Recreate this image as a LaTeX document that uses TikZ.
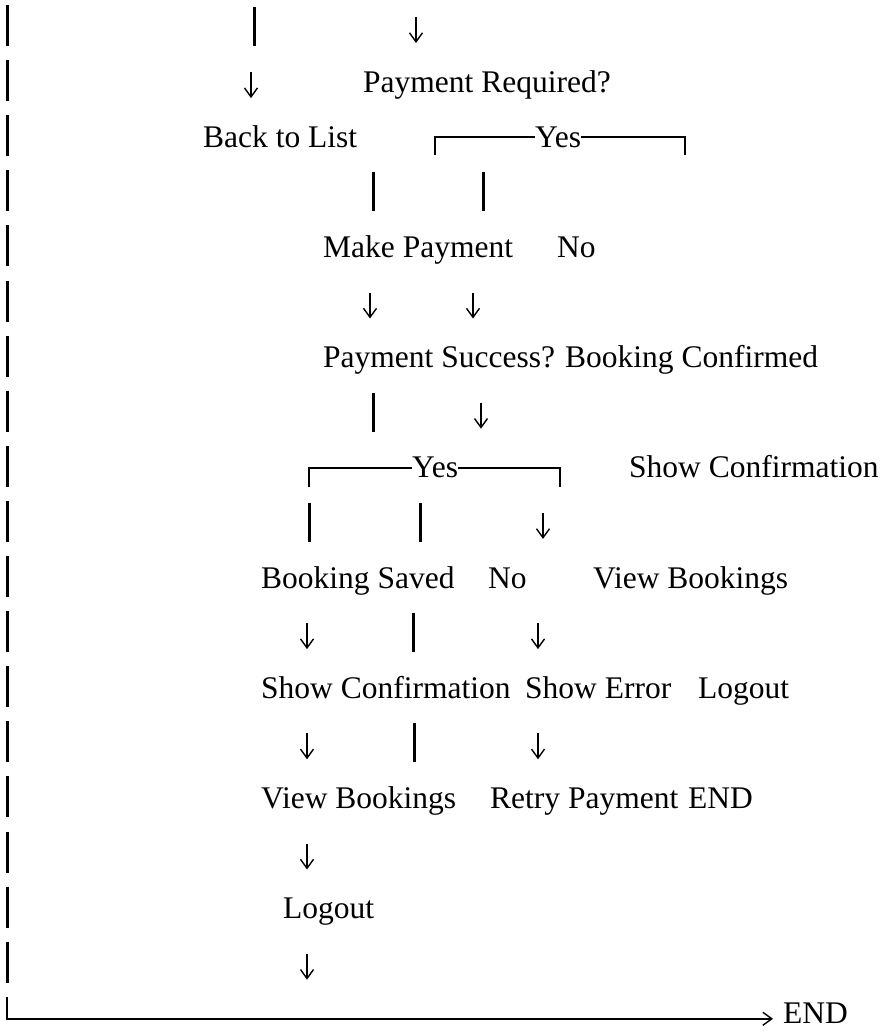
\documentclass[tikz,border=0pt]{standalone}
\usepackage{fontspec}
\setmainfont{Liberation Serif}
\usetikzlibrary{arrows.meta}
\newcommand{\rowy}[1]{27+55.1*#1}

\begin{document}
\begin{tikzpicture}[x=1pt,y=-1pt,
  txt/.style={anchor=base west,inner sep=0pt,font=\fontsize{31.5}{36}\selectfont},
  bar/.style={line width=3pt},
  rule/.style={line width=2.2pt},
  darr/.style={line width=1.4pt,-{Straight Barb[length=9pt,width=13pt,line width=1.4pt]}}]
  \useasboundingbox (0,0) rectangle (885,1033);

  \node[txt] (PayReq)    at (363,{\rowy{1}+10})  {Payment Required?};
  \node[txt] (Back)      at (203,{\rowy{2}+10})  {Back to List};
  \node[txt] (YesA)      at (535,{\rowy{2}+10})  {Yes};
  \node[txt] (MakePay)   at (323,{\rowy{4}+10})  {Make Payment};
  \node[txt] (NoA)       at (557,{\rowy{4}+10})  {No};
  \node[txt] (PaySucc)   at (323,{\rowy{6}+10})  {Payment Success?};
  \node[txt] (Confirmed) at (565,{\rowy{6}+10})  {Booking Confirmed};
  \node[txt] (YesB)      at (412,{\rowy{8}+10})  {Yes};
  \node[txt] (ShowConfA) at (629,{\rowy{8}+10})  {Show Confirmation};
  \node[txt] (Saved)     at (261,{\rowy{10}+10}) {Booking Saved};
  \node[txt] (NoB)       at (488,{\rowy{10}+10}) {No};
  \node[txt] (ViewA)     at (593,{\rowy{10}+10}) {View Bookings};
  \node[txt] (ShowConfB) at (261,{\rowy{12}+10}) {Show Confirmation};
  \node[txt] (ShowErr)   at (525,{\rowy{12}+10}) {Show Error};
  \node[txt] (LogoutA)   at (698,{\rowy{12}+10}) {Logout};
  \node[txt] (ViewB)     at (261,{\rowy{14}+10}) {View Bookings};
  \node[txt] (Retry)     at (490,{\rowy{14}+10}) {Retry Payment};
  \node[txt] (EndA)      at (688,{\rowy{14}+10}) {END};
  \node[txt] (LogoutB)   at (283,{\rowy{16}+10}) {Logout};
  \node[txt] (EndB)      at (783,{\rowy{18}+5})  {END};

  \coordinate (ReqL)  at (435,{\rowy{2}+18});
  \coordinate (ReqR)  at (685,{\rowy{2}+18});
  \coordinate (SuccL) at (309,{\rowy{8}+19});
  \coordinate (SuccR) at (560,{\rowy{8}+19});
  \coordinate (Loop)  at (7,{\rowy{18}-22});
  \coordinate (Elbow) at (743,{\rowy{18}});

  \draw[rule] (ReqL) |- (YesA) (YesA) -| (ReqR);
  \draw[rule] (SuccL) |- (YesB) (YesB) -| (SuccR);

  \foreach \r in {0,...,17}
    \draw[bar] (7,{\rowy{\r}-22}) -- ++(0,41);
  \draw[rule] (Loop) |- (Elbow);
  \draw[darr,shorten >=10pt] (Elbow) -- (EndB.west |- Elbow);

  \foreach \x/\r in {254/0,373/3,483/3,373/7,309/9,420/9,413/11,414/13}
    \draw[bar] (\x,{\rowy{\r}-20}) -- ++(0,39);

  \foreach \x/\r in {416/0,251/1,370/5,473/5,481/7,543/9,307/11,538/11,307/13,538/13,307/15,307/17}
    \draw[darr] (\x,{\rowy{\r}-10}) -- ++(0,26);
\end{tikzpicture}
\end{document}
